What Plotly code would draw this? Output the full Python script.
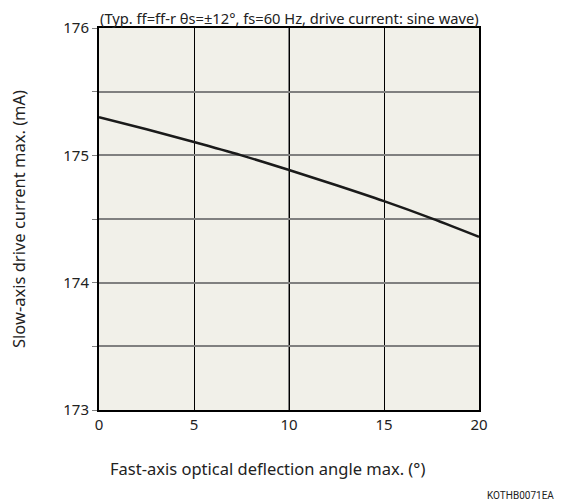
import plotly.graph_objects as go

# Fast-axis angle (deg) vs slow-axis drive current max (mA)
angle = [0, 2.5, 5, 7.5, 10, 12.5, 15, 17.5, 20]
current = [175.30, 175.205, 175.105, 175.00, 174.885, 174.765, 174.64, 174.505, 174.36]

x_ticks = [0, 5, 10, 15, 20]
y_ticks = [173, 173.5, 174, 174.5, 175, 175.5, 176]
y_labels = ["173", "", "174", "", "175", "", "176"]

FONT = "Noto Sans, DejaVu Sans, sans-serif"
TXT = "#222"

fig = go.Figure()
fig.add_trace(go.Scatter(x=angle, y=current, mode="lines",
                         line=dict(color="#1a1a1a", width=2.5, shape="spline"),
                         showlegend=False, hoverinfo="skip"))

# centre vertical gridline is grey and a bit heavier, drawn over the black grid
fig.add_shape(type="line", xref="x", yref="paper", x0=10, x1=10, y0=0, y1=1,
              line=dict(color="#808080", width=2), layer="between")

fig.update_xaxes(range=[0, 20], tickvals=x_ticks, showgrid=True, gridcolor="#000000",
                 gridwidth=1, zeroline=False, showline=True, linecolor="#000000",
                 linewidth=2, mirror=True, ticks="", automargin=False,
                 tickfont=dict(size=15, color=TXT))
fig.update_yaxes(range=[173, 176], tickvals=y_ticks, ticktext=y_labels, showgrid=True,
                 gridcolor="#808080", gridwidth=1.5, zeroline=False, showline=True,
                 linecolor="#000000", linewidth=2, mirror=True, ticks="outside",
                 ticklen=5, tickcolor="#808080", automargin=False,
                 tickfont=dict(size=15, color=TXT))

# the page body adds 8px round the figure, so it is made 16px smaller to fit the window
fig.update_layout(
    width=557, height=496,
    margin=dict(l=91, r=86, t=20, b=94),
    paper_bgcolor="white", plot_bgcolor="#f1f0e9",
    font=dict(family=FONT, color=TXT),
    annotations=[
        dict(text="(Typ. ff=ff-r θs=±12°, fs=60 Hz, drive current: sine wave)",
             xref="paper", yref="paper", x=0.5, y=1, xanchor="center", yanchor="bottom",
             yshift=-2, showarrow=False, font=dict(size=14.7, color=TXT)),
        dict(text="Fast-axis optical deflection angle max. (°)",
             xref="paper", yref="paper", x=0.444, y=0, xanchor="center", yanchor="middle",
             yshift=-58, showarrow=False, font=dict(size=16.5, color=TXT)),
        dict(text="Slow-axis drive current max. (mA)", textangle=-90,
             xref="paper", yref="paper", x=0, y=0.5, xanchor="center", yanchor="middle",
             xshift=-81, showarrow=False, font=dict(size=16.5, color=TXT)),
        dict(text="KOTHB0071EA", xref="paper", yref="paper", x=1, y=0,
             xanchor="right", yanchor="middle", xshift=77, yshift=-85,
             showarrow=False, font=dict(family="Roboto, sans-serif", size=10, color=TXT)),
    ],
)

fig.write_html("out.html")
